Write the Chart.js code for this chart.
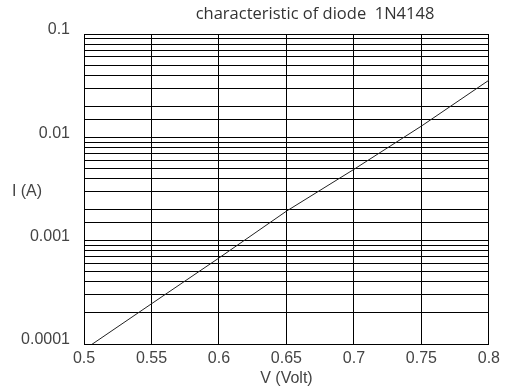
<!DOCTYPE html>
<html>
<head>
<meta charset="utf-8">
<script src="https://cdn.jsdelivr.net/npm/chart.js@4"></script>
<style>
    html, body { margin: 0; padding: 0; background: #fff; }
    #wrap { width: 505px; height: 390px; }
</style>
</head>
<body>
<div id="wrap"><canvas id="diodeChart" width="505" height="390"></canvas></div>
<script>
// V-I curve of the 1N4148
const voltage = [0.5, 0.55, 0.6, 0.65, 0.7, 0.75, 0.8];
const current = [0.000088, 0.000245, 0.00068, 0.00193, 0.0049, 0.01285, 0.0357];

const xTickLabels = ['0.5', '0.55', '0.6', '0.65', '0.7', '0.75', '0.8'];
const yTickLabels = ['0.0001', '0.001', '0.01', '0.1'];

const textFont = '"Liberation Sans", Arial, sans-serif';

const extraText = {
    id: 'extraText',
    afterDraw(chart) {
        const ctx = chart.ctx;
        ctx.save();
        ctx.fillStyle = '#333';
        ctx.textAlign = 'center';
        ctx.textBaseline = 'middle';
        ctx.font = '16.5px "Open Sans", sans-serif';
        ctx.fillText('characteristic of diode  1N4148', 315, 14);
        ctx.fillStyle = '#444';
        ctx.font = '16px ' + textFont;
        ctx.fillText('I (A)', 27, 192);
        ctx.restore();
    }
};

const ctx = document.getElementById('diodeChart').getContext('2d');
new Chart(ctx, {
    type: 'line',
    data: {
        datasets: [{
            data: voltage.map((v, i) => ({ x: v, y: current[i] })),
            borderColor: '#222',
            borderWidth: 1,
            pointRadius: 0,
            tension: 0
        }]
    },
    options: {
        responsive: false,
        animation: false,
        layout: { padding: { left: 0, right: 16, top: 34, bottom: 0 } },
        plugins: {
            legend: { display: false },
            tooltip: { enabled: false }
        },
        scales: {
            x: {
                type: 'linear',
                min: 0.5,
                max: 0.8,
                afterFit: (scale) => { scale.height = 46; },
                afterBuildTicks: (scale) => {
                    scale.ticks = xTickLabels.map(t => ({ value: parseFloat(t) }));
                },
                ticks: {
                    color: '#444',
                    font: { family: textFont, size: 16 },
                    padding: 5,
                    maxRotation: 0,
                    autoSkip: false,
                    callback: (value, index) => xTickLabels[index]
                },
                grid: { color: '#000', lineWidth: 1, drawTicks: false },
                border: { color: '#000' },
                title: {
                    display: true,
                    text: 'V (Volt)',
                    color: '#444',
                    font: { family: textFont, size: 16 },
                    padding: { top: 0, bottom: 2 }
                }
            },
            y: {
                type: 'logarithmic',
                min: 0.0001,
                max: 0.1,
                afterFit: (scale) => { scale.width = 84; },
                ticks: {
                    color: '#444',
                    font: { family: textFont, size: 16 },
                    padding: 14,
                    labelOffset: -4,
                    autoSkip: false,
                    callback: (value) => {
                        const exp = Math.log10(value);
                        if (Math.abs(exp - Math.round(exp)) > 1e-9) return '';
                        return yTickLabels[Math.round(exp) + 4];
                    }
                },
                grid: { color: '#000', lineWidth: 1, drawTicks: false },
                border: { color: '#000' }
            }
        }
    },
    plugins: [extraText]
});
</script>
</body>
</html>
